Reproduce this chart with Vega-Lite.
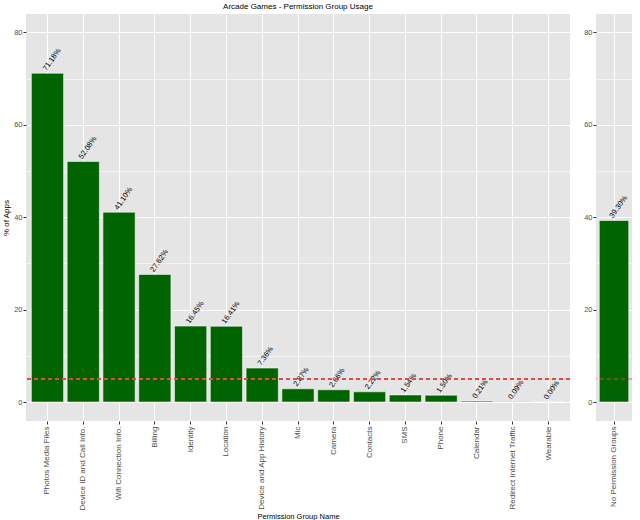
{
  "$schema": "https://vega.github.io/schema/vega-lite/v6.json",
  "padding": {"left": 2, "top": 3, "right": 5, "bottom": 3},
  "datasets": {
    "groups": [
      {"group": "Photos Media Files", "pct": 71.18, "label": "71.18%"},
      {"group": "Device ID and Call Info.", "pct": 52.08, "label": "52.08%"},
      {"group": "Wifi Connection Info.", "pct": 41.10, "label": "41.10%"},
      {"group": "Billing", "pct": 27.62, "label": "27.62%"},
      {"group": "Identity", "pct": 16.45, "label": "16.45%"},
      {"group": "Location", "pct": 16.41, "label": "16.41%"},
      {"group": "Device and App History", "pct": 7.36, "label": "7.36%"},
      {"group": "Mic", "pct": 2.87, "label": "2.87%"},
      {"group": "Camera", "pct": 2.66, "label": "2.66%"},
      {"group": "Contacts", "pct": 2.22, "label": "2.22%"},
      {"group": "SMS", "pct": 1.54, "label": "1.54%"},
      {"group": "Phone", "pct": 1.50, "label": "1.50%"},
      {"group": "Calendar", "pct": 0.21, "label": "0.21%"},
      {"group": "Redirect Internet Traffic", "pct": 0.09, "label": "0.09%"},
      {"group": "Wearable", "pct": 0.00, "label": "0.00%"}
    ],
    "none": [
      {"group": "No Permission Groups", "pct": 39.30, "label": "39.30%"}
    ]
  },
  "config": {
    "font": "Liberation Sans",
    "view": {"fill": "#E5E5E5", "stroke": null},
    "axis": {
      "domain": false,
      "tickColor": "#333333",
      "tickSize": 3,
      "labelColor": "#4D4D4D",
      "labelFont": "Liberation Sans",
      "titleFont": "Liberation Sans",
      "titleFontWeight": "normal",
      "titleColor": "#000000",
      "gridColor": "#FFFFFF"
    },
    "title": {"font": "Liberation Sans", "fontWeight": "normal", "fontSize": 8, "color": "#000000"}
  },
  "hconcat": [
    {
      "width": 544,
      "height": 407,
      "title": {"text": "Arcade Games - Permission Group Usage", "anchor": "middle", "offset": 3},
      "data": {"name": "groups"},
      "encoding": {
        "x": {
          "field": "group", "type": "nominal", "sort": null,
          "scale": {"paddingInner": 0.1, "paddingOuter": 0.15},
          "axis": {
            "title": "Permission Group Name", "titleFontSize": 7.5, "titlePadding": 2,
            "labelAngle": -90, "labelAlign": "right", "labelBaseline": "middle",
            "labelFontSize": 8, "labelPadding": 2, "grid": true, "gridWidth": 1, "bandPosition": 0.5
          }
        },
        "y": {
          "field": "pct", "type": "quantitative",
          "scale": {"domain": [-4.1, 84], "nice": false, "zero": false},
          "axis": {
            "title": "% of Apps", "titleFontSize": 8, "titlePadding": 3,
            "values": [0, 10, 20, 30, 40, 50, 60, 70, 80],
            "labelExpr": "datum.value % 20 === 0 ? datum.label : ''",
            "labelFontSize": 7.5, "labelPadding": 1,
            "gridWidth": {"condition": {"test": "datum.value % 20 === 0", "value": 1.2}, "value": 0.6},
            "tickOpacity": {"condition": {"test": "datum.value % 20 === 0", "value": 1}, "value": 0}
          }
        }
      },
      "layer": [
        {
          "mark": {"type": "bar", "color": "#006400", "stroke": "#FFFFFF", "strokeOpacity": 0.55, "strokeWidth": 1},
          "encoding": {"y2": {"datum": 0}}
        },
        {
          "mark": {"type": "text", "angle": -55, "align": "left", "baseline": "bottom", "fontSize": 7.5, "color": "#000000", "dx": 1},
          "encoding": {"text": {"field": "label"}}
        },
        {
          "mark": {"type": "rule", "color": "#E34A4A", "strokeDash": [4, 3], "strokeWidth": 0.9},
          "encoding": {"y": {"datum": 5}, "x": null}
        }
      ]
    },
    {
      "width": 36,
      "height": 407,
      "data": {"name": "none"},
      "encoding": {
        "x": {
          "field": "group", "type": "nominal", "sort": null,
          "scale": {"paddingInner": 0.1, "paddingOuter": 0.1},
          "axis": {
            "title": null,
            "labelAngle": -90, "labelAlign": "right", "labelBaseline": "middle",
            "labelFontSize": 8, "labelPadding": 2, "grid": true, "gridWidth": 1, "bandPosition": 0.5
          }
        },
        "y": {
          "field": "pct", "type": "quantitative",
          "scale": {"domain": [-4.1, 84], "nice": false, "zero": false},
          "axis": {
            "title": null,
            "values": [0, 10, 20, 30, 40, 50, 60, 70, 80],
            "labelExpr": "datum.value % 20 === 0 ? datum.label : ''",
            "labelFontSize": 7.5, "labelPadding": 1,
            "gridWidth": {"condition": {"test": "datum.value % 20 === 0", "value": 1.2}, "value": 0.6},
            "tickOpacity": {"condition": {"test": "datum.value % 20 === 0", "value": 1}, "value": 0}
          }
        }
      },
      "layer": [
        {
          "mark": {"type": "bar", "color": "#006400", "stroke": "#FFFFFF", "strokeOpacity": 0.55, "strokeWidth": 1},
          "encoding": {"y2": {"datum": 0}}
        },
        {
          "mark": {"type": "text", "angle": -55, "align": "left", "baseline": "bottom", "fontSize": 7.5, "color": "#000000", "dx": 1},
          "encoding": {"text": {"field": "label"}}
        },
        {
          "mark": {"type": "rule", "color": "#E34A4A", "strokeDash": [4, 3], "strokeWidth": 0.9},
          "encoding": {"y": {"datum": 5}, "x": null}
        }
      ]
    }
  ],
  "spacing": 12
}
